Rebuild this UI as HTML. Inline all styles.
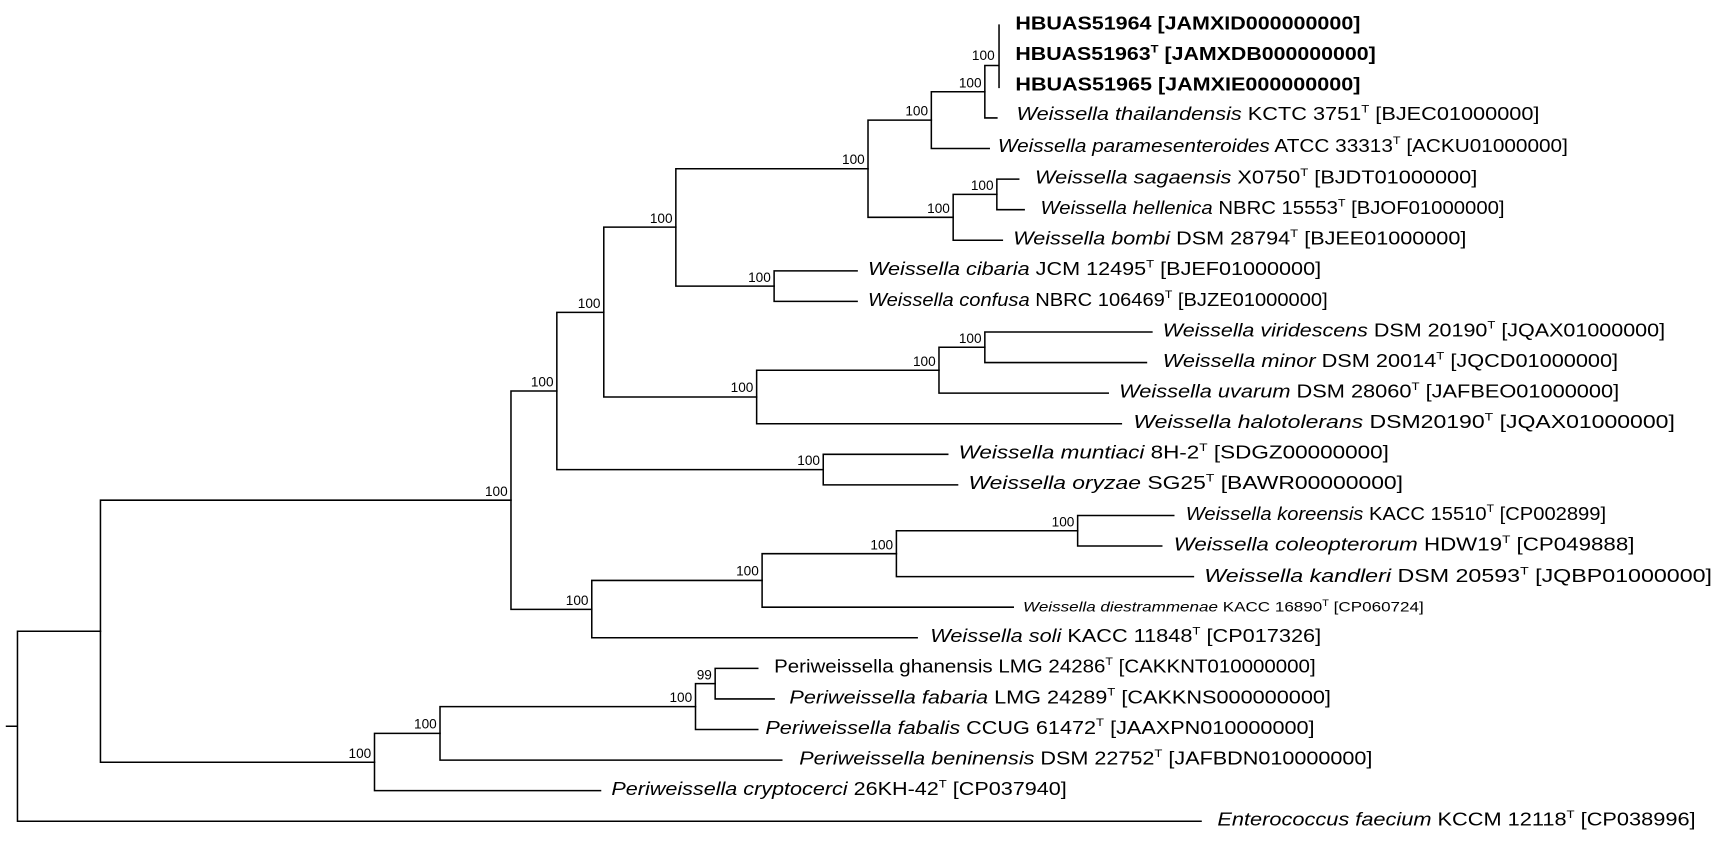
<!DOCTYPE html>
<html><head><meta charset="utf-8"><style>
html,body{margin:0;padding:0;background:#fff;}
svg{display:block;}
text{font-family:"Liberation Sans",Arial,sans-serif;fill:#000;}
.l{font-size:16.5px;}
.b{font-size:12.5px;}
.i{font-style:italic;}
.s{font-size:10px;}
</style></head><body>
<svg width="1712" height="842" viewBox="0 0 1568 771" preserveAspectRatio="none" xmlns="http://www.w3.org/2000/svg">
<g stroke="#000" stroke-width="1.4" fill="none" stroke-linecap="square">
<path d="M6 665H16M16 578V752M16 578H92M16 752H1100"/>
<path d="M92 458V698M92 458H468M92 698H343"/>
<path d="M468 358V558M468 358H510M468 558H542"/>
<path d="M510 286V430M510 286H553M510 430H754"/>
<path d="M553 208V363.5M553 208H619M553 363.5H693"/>
<path d="M619 154.5V262M619 154.5H795M619 262H709"/>
<path d="M795 110V199M795 110H853M795 199H873"/>
<path d="M853 84V136M853 84H902M853 136H906"/>
<path d="M902 60V108M902 60H915M902 108H913M915 23V80"/>
<path d="M873 178V220M873 178H913M873 220H918"/>
<path d="M913 164V192M913 164H933M913 192H938"/>
<path d="M709 248V276M709 248H785M709 276H785"/>
<path d="M693 339V388M693 339H860M693 388H1027"/>
<path d="M860 318V360M860 318H902M860 360H1015"/>
<path d="M902 304V332M902 304H1055M902 332H1050"/>
<path d="M754 416V444M754 416H868M754 444H877"/>
<path d="M542 531.5V584M542 531.5H698M542 584H840"/>
<path d="M698 507V556M698 507H821M698 556H928"/>
<path d="M821 486V528M821 486H987M821 528H1093"/>
<path d="M987 472V500M987 472H1075M987 500H1064"/>
<path d="M343 671.5V724M343 671.5H403M343 724H550"/>
<path d="M403 647V696M403 647H637M403 696H716"/>
<path d="M637 626V668M637 626H655M637 668H694"/>
<path d="M655 612V640M655 612H694M655 640H709"/>
</g>
<g class="b" text-anchor="end">
<text x="911" y="55">100</text>
<text x="899" y="80">100</text>
<text x="850" y="106">100</text>
<text x="792" y="150">100</text>
<text x="616" y="204">100</text>
<text x="550" y="282">100</text>
<text x="507" y="354">100</text>
<text x="465" y="454">100</text>
<text x="910" y="174">100</text>
<text x="870" y="195">100</text>
<text x="706" y="258">100</text>
<text x="899" y="314">100</text>
<text x="857" y="335">100</text>
<text x="690" y="359">100</text>
<text x="751" y="426">100</text>
<text x="984" y="482">100</text>
<text x="818" y="503">100</text>
<text x="695" y="527">100</text>
<text x="539" y="554">100</text>
<text x="652" y="622">99</text>
<text x="634" y="643">100</text>
<text x="400" y="667">100</text>
<text x="340" y="694">100</text>
</g>
<g class="l">
<text x="930" y="27" font-weight="bold" textLength="316" lengthAdjust="spacingAndGlyphs">HBUAS51964 [JAMXID000000000]</text>
<text x="930" y="55" font-weight="bold" textLength="330" lengthAdjust="spacingAndGlyphs">HBUAS51963<tspan class="s" dy="-7">T</tspan><tspan dy="7"> [JAMXDB000000000]</tspan></text>
<text x="930" y="83" font-weight="bold" textLength="316" lengthAdjust="spacingAndGlyphs">HBUAS51965 [JAMXIE000000000]</text>
<text x="931" y="110" textLength="479" lengthAdjust="spacingAndGlyphs"><tspan class="i">Weissella thailandensis</tspan> KCTC 3751<tspan class="s" dy="-7">T</tspan><tspan dy="7"> [BJEC01000000]</tspan></text>
<text x="914" y="139" textLength="522" lengthAdjust="spacingAndGlyphs"><tspan class="i">Weissella paramesenteroides</tspan> ATCC 33313<tspan class="s" dy="-7">T</tspan><tspan dy="7"> [ACKU01000000]</tspan></text>
<text x="948" y="168" textLength="405" lengthAdjust="spacingAndGlyphs"><tspan class="i">Weissella sagaensis</tspan> X0750<tspan class="s" dy="-7">T</tspan><tspan dy="7"> [BJDT01000000]</tspan></text>
<text x="953" y="196" textLength="425" lengthAdjust="spacingAndGlyphs"><tspan class="i">Weissella hellenica</tspan> NBRC 15553<tspan class="s" dy="-7">T</tspan><tspan dy="7"> [BJOF01000000]</tspan></text>
<text x="928" y="224" textLength="415" lengthAdjust="spacingAndGlyphs"><tspan class="i">Weissella bombi</tspan> DSM 28794<tspan class="s" dy="-7">T</tspan><tspan dy="7"> [BJEE01000000]</tspan></text>
<text x="795" y="252" textLength="415" lengthAdjust="spacingAndGlyphs"><tspan class="i">Weissella cibaria</tspan> JCM 12495<tspan class="s" dy="-7">T</tspan><tspan dy="7"> [BJEF01000000]</tspan></text>
<text x="795" y="280" textLength="421" lengthAdjust="spacingAndGlyphs"><tspan class="i">Weissella confusa</tspan> NBRC 106469<tspan class="s" dy="-7">T</tspan><tspan dy="7"> [BJZE01000000]</tspan></text>
<text x="1065" y="308" textLength="460" lengthAdjust="spacingAndGlyphs"><tspan class="i">Weissella viridescens</tspan> DSM 20190<tspan class="s" dy="-7">T</tspan><tspan dy="7"> [JQAX01000000]</tspan></text>
<text x="1065" y="336" textLength="417" lengthAdjust="spacingAndGlyphs"><tspan class="i">Weissella minor</tspan> DSM 20014<tspan class="s" dy="-7">T</tspan><tspan dy="7"> [JQCD01000000]</tspan></text>
<text x="1025" y="364" textLength="458" lengthAdjust="spacingAndGlyphs"><tspan class="i">Weissella uvarum</tspan> DSM 28060<tspan class="s" dy="-7">T</tspan><tspan dy="7"> [JAFBEO01000000]</tspan></text>
<text x="1038" y="392" textLength="496" lengthAdjust="spacingAndGlyphs"><tspan class="i">Weissella halotolerans</tspan> DSM20190<tspan class="s" dy="-7">T</tspan><tspan dy="7"> [JQAX01000000]</tspan></text>
<text x="878" y="420" textLength="394" lengthAdjust="spacingAndGlyphs"><tspan class="i">Weissella muntiaci</tspan> 8H-2<tspan class="s" dy="-7">T</tspan><tspan dy="7"> [SDGZ00000000]</tspan></text>
<text x="887" y="448" textLength="398" lengthAdjust="spacingAndGlyphs"><tspan class="i">Weissella oryzae</tspan> SG25<tspan class="s" dy="-7">T</tspan><tspan dy="7"> [BAWR00000000]</tspan></text>
<text x="1086" y="476" textLength="385" lengthAdjust="spacingAndGlyphs"><tspan class="i">Weissella koreensis</tspan> KACC 15510<tspan class="s" dy="-7">T</tspan><tspan dy="7"> [CP002899]</tspan></text>
<text x="1075" y="504" textLength="422" lengthAdjust="spacingAndGlyphs"><tspan class="i">Weissella coleopterorum</tspan> HDW19<tspan class="s" dy="-7">T</tspan><tspan dy="7"> [CP049888]</tspan></text>
<text x="1103" y="533" textLength="465" lengthAdjust="spacingAndGlyphs"><tspan class="i">Weissella kandleri</tspan> DSM 20593<tspan class="s" dy="-7">T</tspan><tspan dy="7"> [JQBP01000000]</tspan></text>
<text x="937" y="560" style="font-size:12.5px" textLength="367" lengthAdjust="spacingAndGlyphs"><tspan class="i">Weissella diestrammenae</tspan> KACC 16890<tspan class="s" style="font-size:8px" dy="-5">T</tspan><tspan dy="5"> [CP060724]</tspan></text>
<text x="852" y="588" textLength="358" lengthAdjust="spacingAndGlyphs"><tspan class="i">Weissella soli</tspan> KACC 11848<tspan class="s" dy="-7">T</tspan><tspan dy="7"> [CP017326]</tspan></text>
<text x="709" y="616" textLength="496" lengthAdjust="spacingAndGlyphs">Periweissella ghanensis LMG 24286<tspan class="s" dy="-7">T</tspan><tspan dy="7"> [CAKKNT010000000]</tspan></text>
<text x="723" y="644" textLength="496" lengthAdjust="spacingAndGlyphs"><tspan class="i">Periweissella fabaria</tspan> LMG 24289<tspan class="s" dy="-7">T</tspan><tspan dy="7"> [CAKKNS000000000]</tspan></text>
<text x="701" y="672" textLength="503" lengthAdjust="spacingAndGlyphs"><tspan class="i">Periweissella fabalis</tspan> CCUG 61472<tspan class="s" dy="-7">T</tspan><tspan dy="7"> [JAAXPN010000000]</tspan></text>
<text x="732" y="700" textLength="525" lengthAdjust="spacingAndGlyphs"><tspan class="i">Periweissella beninensis</tspan> DSM 22752<tspan class="s" dy="-7">T</tspan><tspan dy="7"> [JAFBDN010000000]</tspan></text>
<text x="560" y="728" textLength="417" lengthAdjust="spacingAndGlyphs"><tspan class="i">Periweissella cryptocerci</tspan> 26KH-42<tspan class="s" dy="-7">T</tspan><tspan dy="7"> [CP037940]</tspan></text>
<text x="1115" y="756" textLength="438" lengthAdjust="spacingAndGlyphs"><tspan class="i">Enterococcus faecium</tspan> KCCM 12118<tspan class="s" dy="-7">T</tspan><tspan dy="7"> [CP038996]</tspan></text>
</g>
</svg>
</body></html>
